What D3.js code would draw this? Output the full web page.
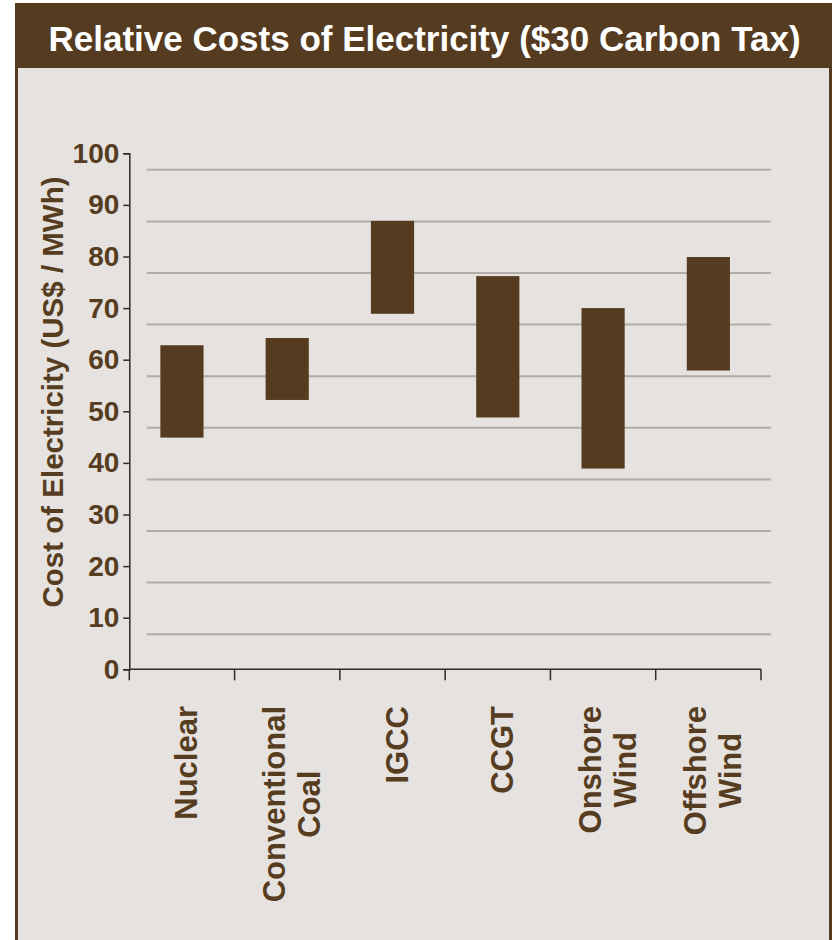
<!DOCTYPE html>
<html>
<head>
<meta charset="utf-8">
<script src="https://cdn.jsdelivr.net/npm/d3@7"></script>
<style>
  body { margin: 0; background: #ffffff; }
  text { font-family: Arial, "Liberation Sans", sans-serif; font-weight: bold; }
</style>
</head>
<body>
<div id="chart"></div>
<script>
// data
var categories = ["Nuclear", "Conventional Coal", "IGCC", "CCGT", "Onshore Wind", "Offshore Wind"];
var labelLines = [["Nuclear"], ["Conventional", "Coal"], ["IGCC"], ["CCGT"], ["Onshore", "Wind"], ["Offshore", "Wind"]];
var lowCost = [44.9, 52.2, 68.9, 48.8, 38.9, 57.9];
var highCost = [62.8, 64.2, 86.9, 76.2, 70.0, 79.9];
var yTicks = [0, 10, 20, 30, 40, 50, 60, 70, 80, 90, 100];
var gridValues = [10, 20, 30, 40, 50, 60, 70, 80, 90, 100];
var title = "Relative Costs of Electricity ($30 Carbon Tax)";
var yTitle = "Cost of Electricity (US$ / MWh)";

var brown = "#553b1f";
var textBrown = "#573d1f";
var panelBg = "#e5e2df";

var svg = d3.select("#chart")
    .append("svg")
    .attr("width", 836)
    .attr("height", 940);

// panel with brown side borders
svg.append("rect")
    .attr("x", 15).attr("y", 3)
    .attr("width", 817).attr("height", 940)
    .style("fill", brown);
svg.append("rect")
    .attr("x", 18).attr("y", 68)
    .attr("width", 811).attr("height", 880)
    .style("fill", panelBg);

svg.append("text")
    .attr("x", 424.5)
    .attr("y", 51)
    .attr("text-anchor", "middle")
    .attr("font-size", "35px")
    .style("fill", "#ffffff")
    .text(title);

var x = d3.scaleBand()
    .domain(categories)
    .range([129.3, 761]);

var barX = d3.scaleBand()
    .domain(categories)
    .range([129.3, 761])
    .paddingInner(0.59)
    .paddingOuter(0.295);

var y = d3.scaleLinear()
    .domain([0, 100])
    .range([669.3, 153.3]);

// gridlines (drawn offset from the ticks like in the source picture)
svg.append("g")
    .attr("id", "grid")
    .attr("transform", "translate(17.5,16.5)")
    .selectAll("line")
    .data(gridValues)
    .enter()
    .append("line")
    .attr("x1", 129.3)
    .attr("x2", 753.5)
    .attr("y1", function(d) { return y(d); })
    .attr("y2", function(d) { return y(d); })
    .style("stroke", "#b1aca5")
    .style("stroke-width", 2);

// bars from low to high cost
svg.append("g")
    .attr("id", "bars")
    .selectAll("rect")
    .data(categories)
    .enter()
    .append("rect")
    .attr("x", function(d) { return barX(d); })
    .attr("width", barX.bandwidth())
    .attr("y", function(d, i) { return y(highCost[i]); })
    .attr("height", function(d, i) { return y(lowCost[i]) - y(highCost[i]); })
    .style("fill", brown);

// y axis
var yAxis = svg.append("g")
    .attr("transform", "translate(129.3,0)")
    .call(d3.axisLeft(y).tickValues(yTicks).tickSize(6).tickPadding(4));
yAxis.select(".domain").style("stroke", "#2b2b2b").style("stroke-width", 1.5);
yAxis.selectAll(".tick line").style("stroke", "#2b2b2b").style("stroke-width", 1.5);
yAxis.selectAll(".tick text")
    .attr("font-size", "28px")
    .attr("font-family", "Arial, 'Liberation Sans', sans-serif")
    .style("fill", textBrown);

// x axis: ticks on band edges
var xAxis = svg.append("g")
    .attr("transform", "translate(0,669.3)");
xAxis.append("line")
    .attr("x1", 129.3).attr("x2", 761)
    .style("stroke", "#2b2b2b").style("stroke-width", 1.5);
var edges = categories.map(function(d) { return x(d); }).concat([x.range()[1]]);
xAxis.selectAll(".xtick")
    .data(edges)
    .enter()
    .append("line")
    .attr("class", "xtick")
    .attr("x1", function(d) { return d; })
    .attr("x2", function(d) { return d; })
    .attr("y1", 0).attr("y2", 11)
    .style("stroke", "#2b2b2b").style("stroke-width", 1.5);

// rotated category labels, lines centred on each other
var lineGap = 35;
var labels = svg.append("g").attr("id", "xlabels");
categories.forEach(function(c, i) {
    var lines = labelLines[i];
    var g = labels.append("text")
        .attr("text-anchor", "middle")
        .attr("font-size", "31px")
        .style("fill", textBrown);
    lines.forEach(function(l, j) {
        g.append("tspan")
            .attr("x", 0)
            .attr("y", (j - (lines.length - 1) / 2) * lineGap + 11)
            .text(l);
    });
    var maxLen = 0;
    g.selectAll("tspan").each(function() {
        maxLen = Math.max(maxLen, this.getComputedTextLength());
    });
    var cx = x(c) + x.bandwidth() / 2 + 4;
    g.attr("transform", "translate(" + cx + "," + (706 + maxLen / 2) + ") rotate(-90)");
});

svg.append("text")
    .attr("transform", "translate(63,392) rotate(-90)")
    .attr("text-anchor", "middle")
    .attr("font-size", "29.5px")
    .style("fill", textBrown)
    .text(yTitle);
</script>
</body>
</html>
